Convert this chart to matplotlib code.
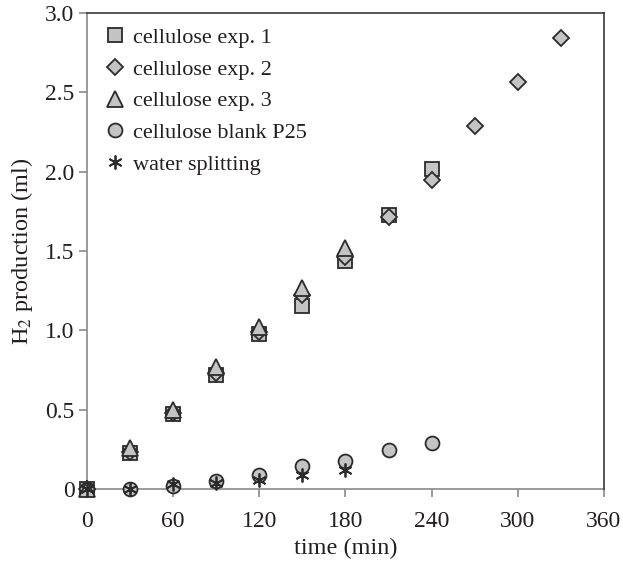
import matplotlib
matplotlib.use("AGG")
import matplotlib.pyplot as plt

plt.rcParams['font.family'] = ['Liberation Serif', 'DejaVu Serif']
plt.rcParams['mathtext.fontset'] = 'stix'

# data (time in min, H2 in ml)
t_exp1 = [0, 30, 60, 90, 120, 150, 180, 210, 240]
h_exp1 = [0, 0.23, 0.47, 0.72, 0.98, 1.155, 1.435, 1.73, 2.02]

t_exp2 = [0, 30, 60, 90, 120, 150, 180, 210, 240, 270, 300, 330]
h_exp2 = [0, 0.235, 0.48, 0.73, 0.99, 1.22, 1.46, 1.715, 1.95, 2.29, 2.565, 2.84]

t_exp3 = [0, 30, 60, 90, 120, 150, 180]
h_exp3 = [0, 0.26, 0.50, 0.77, 1.02, 1.27, 1.52]

t_blank = [0, 30, 60, 90, 120, 150, 180, 210, 240]
h_blank = [0, 0.0, 0.02, 0.05, 0.09, 0.143, 0.174, 0.248, 0.29]

t_water = [0, 30, 60, 90, 120, 150, 180]
h_water = [0, 0.0, 0.03, 0.04, 0.06, 0.09, 0.122]

xticks = [0, 60, 120, 180, 240, 300, 360]
yticks = [0, 0.5, 1.0, 1.5, 2.0, 2.5, 3.0]
ylabels = ['0', '0.5', '1.0', '1.5', '2.0', '2.5', '3.0']

face = '#c4c4c4'
edge = '#2b2b2b'
txt = '#231f20'

fig = plt.figure(figsize=(6.23, 5.61), dpi=100)
ax = fig.add_axes([0.1396, 0.1283, 0.8299, 0.8485])

kw = dict(ls='none', mec=edge, mew=1.3, clip_on=False)
ax.plot(t_exp1, h_exp1, marker='s', ms=10, mfc=face, label='cellulose exp. 1', zorder=3, **kw)
ax.plot(t_exp2, h_exp2, marker='D', ms=8, mfc=face, label='cellulose exp. 2', zorder=4, **kw)
ax.plot(t_exp3, h_exp3, marker='^', ms=11, mfc=face, label='cellulose exp. 3', zorder=5, **kw)
ax.plot(t_blank, h_blank, marker='o', ms=10, mfc=face, label='cellulose blank P25', zorder=3, **kw)
ax.plot(t_water, h_water, marker=(6, 2, 0), ms=10, label='water splitting', zorder=6, **kw)

ax.set_xlim(0, 360)
ax.set_ylim(0, 3.0)
ax.set_xticks(xticks)
ax.set_yticks(yticks)
ax.set_yticklabels(ylabels)
ax.tick_params(axis='both', labelsize=17, colors='#8a8a8a', labelcolor=txt, length=6, width=1.2, direction='out', pad=3)
ax.tick_params(axis='x', pad=10)

ax.spines['left'].set_color('#8a8a8a')
ax.spines['bottom'].set_color('#8a8a8a')
ax.spines['top'].set_color('#3a3a3a')
ax.spines['right'].set_color('#3a3a3a')
for s in ax.spines.values():
    s.set_linewidth(1.2)
for side in ['left', 'bottom']:
    ax.spines[side].set_zorder(0)

ax.set_xlabel('time (min)', fontsize=17.5, color=txt, labelpad=4)
ax.set_ylabel('H$_2$ production (ml)', fontsize=17.5, color=txt, labelpad=7)

leg = ax.legend(loc='upper left', frameon=False, fontsize=16, handletextpad=0.2,
                borderaxespad=0.25, labelspacing=0.5, handlelength=1.2)
for t in leg.get_texts():
    t.set_color(txt)

fig.savefig('out.png', dpi=100)
